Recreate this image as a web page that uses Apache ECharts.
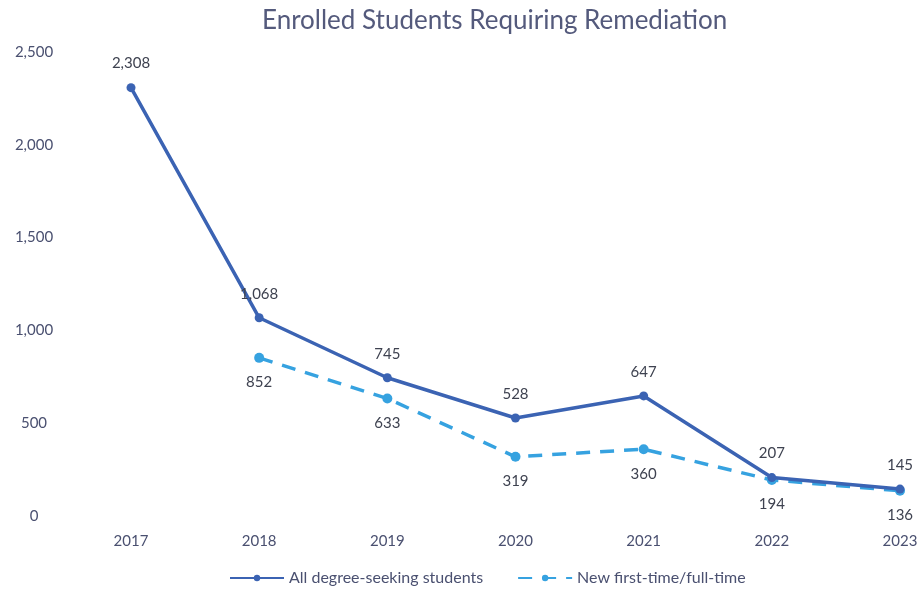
<!DOCTYPE html>
<html>
<head>
<meta charset="utf-8">
<script src="https://cdn.jsdelivr.net/npm/echarts@6/dist/echarts.min.js"></script>
<style>
  html, body { margin: 0; padding: 0; background: #fff; }
  #container { width: 922px; height: 595px; }
</style>
</head>
<body>
<div id="container"></div>
<script>
var years = ['2017', '2018', '2019', '2020', '2021', '2022', '2023'];
var allDegree = [2308, 1068, 745, 528, 647, 207, 145];
var newFirstTime = [null, 852, 633, 319, 360, 194, 136];
var yTicks = [0, 500, 1000, 1500, 2000, 2500];

var textColor = '#4a5070';
var fontName = 'Lato, "Open Sans", sans-serif';

var myChart = echarts.init(document.getElementById('container'));

var option = {
    backgroundColor: '#fff',
    textStyle: { fontFamily: fontName },
    title: {
        text: 'Enrolled Students Requiring Remediation',
        left: 257,
        top: 3,
        textStyle: {
            color: '#545a7c',
            fontSize: 26,
            fontWeight: 'normal',
            fontFamily: fontName
        }
    },
    legend: {
        bottom: 4,
        left: 224,
        itemWidth: 54,
        itemHeight: 8,
        itemGap: 34,
        textStyle: { color: textColor, fontSize: 16, letterSpacing: 1.2 },
        data: ['All degree-seeking students', 'New first-time/full-time']
    },
    grid: {
        left: 131,
        right: 22,
        top: 52,
        bottom: 79
    },
    xAxis: {
        type: 'category',
        data: years,
        boundaryGap: false,
        axisLine: { show: false },
        axisTick: { show: false },
        axisLabel: { color: textColor, fontSize: 15, letterSpacing: 1, margin: 18 }
    },
    yAxis: {
        type: 'value',
        min: yTicks[0],
        max: yTicks[yTicks.length - 1],
        interval: 500,
        splitLine: { show: false },
        axisLine: { show: false },
        axisTick: { show: false },
        axisLabel: {
            color: textColor,
            fontSize: 15,
            letterSpacing: 1,
            align: 'center',
            margin: 97,
            formatter: function (v) { return v.toLocaleString('en-US'); }
        }
    },
    series: [{
        name: 'All degree-seeking students',
        type: 'line',
        data: allDegree,
        symbol: 'circle',
        symbolSize: 9,
        lineStyle: { color: '#3b63b3', width: 3.5 },
        itemStyle: { color: '#3b63b3' },
        label: {
            show: true,
            position: 'top',
            distance: 12,
            color: '#3e4250',
            fontSize: 15,
            letterSpacing: 1,
            formatter: function (p) { return p.value.toLocaleString('en-US'); }
        },
        z: 3
    }, {
        name: 'New first-time/full-time',
        type: 'line',
        data: newFirstTime,
        symbol: 'circle',
        symbolSize: 10,
        lineStyle: { color: '#36a2e0', width: 3.5, type: [14, 10] },
        itemStyle: { color: '#36a2e0' },
        label: {
            show: true,
            position: 'bottom',
            distance: 12,
            color: '#3e4250',
            fontSize: 15,
            letterSpacing: 1
        },
        z: 2
    }]
};
myChart.setOption(option);
</script>
</body>
</html>
